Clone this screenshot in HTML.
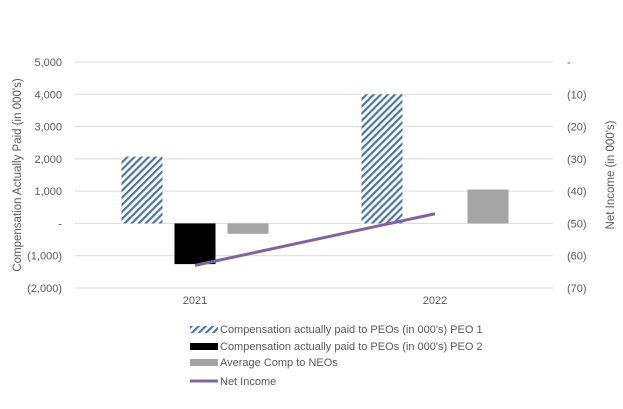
<!DOCTYPE html>
<html><head><meta charset="utf-8"><style>
body{margin:0;background:#fff;}
svg text{font-family:"Liberation Sans",sans-serif;fill:#595959;}
</style></head><body>
<svg id="chart" width="623" height="404" xmlns="http://www.w3.org/2000/svg">
<defs>
<pattern id="hatch" patternUnits="userSpaceOnUse" width="5" height="5" patternTransform="rotate(45)">
<rect width="5" height="5" fill="#fff"/><rect width="2.2" height="5" fill="#4a78a8"/>
</pattern>
</defs>
<g id="grid"></g><g id="bars"></g><g id="line"></g><g id="axes"></g>
<text transform="translate(21,175) rotate(-90)" text-anchor="middle" font-size="11.5">Compensation Actually Paid (in 000's)</text>
<text transform="translate(614,175) rotate(-90)" text-anchor="middle" font-size="11.5">Net Income (in 000's)</text>
<g font-size="11">
<g><rect x="190" y="326" width="28" height="7" fill="url(#hatch)"/><text x="220" y="333">Compensation actually paid to PEOs (in 000's) PEO 1</text></g>
<g><rect x="190" y="343" width="28" height="7" fill="#000"/><text x="220" y="350">Compensation actually paid to PEOs (in 000's) PEO 2</text></g>
<g><rect x="190" y="359" width="28" height="7" fill="#a5a5a5"/><text x="220" y="366">Average Comp to NEOs</text></g>
<g><line x1="190" y1="381" x2="218" y2="381" stroke="#8064a2" stroke-width="3"/><text x="220" y="385">Net Income</text></g>
</g>
</svg>
<script>
const categories=["2021","2022"];
const peo1=[2070,4000];
const peo2=[-1260,null];
const neo=[-320,1050];
const netIncome=[-63,-47];
const leftTicks=[5000,4000,3000,2000,1000,0,-1000,-2000];
const leftTickLabels=["5,000","4,000","3,000","2,000","1,000","-","(1,000)","(2,000)"];
const rightTicks=[0,-10,-20,-30,-40,-50,-60,-70];
const rightTickLabels=["-","(10)","(20)","(30)","(40)","(50)","(60)","(70)"];
const NS="http://www.w3.org/2000/svg";
const X0=75,X1=555,YT=62,YB=288;
const yL=v=>YT+(5000-v)/7000*(YB-YT);
const yR=v=>YT+(0-v)/70*(YB-YT);
const catW=(X1-X0)/categories.length;
const xC=i=>X0+catW*(i+0.5);
const bw=41,gap=12;
function mk(tag,attrs,parent){const e=document.createElementNS(NS,tag);for(const k in attrs)e.setAttribute(k,attrs[k]);document.getElementById(parent).appendChild(e);return e;}
leftTicks.forEach((t,i)=>{
 const g=mk("line",{x1:X0,x2:X1-2,y1:yL(t),y2:yL(t),stroke:"#d9d9d9","stroke-width":1},"grid");
 
 
 const tx=mk("text",{x:62,y:yL(t)+4,"text-anchor":"end","font-size":11},"axes");
 tx.textContent=leftTickLabels[i];
 
 
});
rightTicks.forEach((t,i)=>{
 const tx=mk("text",{x:567,y:yR(t)+4,"font-size":11},"axes");
 tx.textContent=rightTickLabels[i];
 
 
});
categories.forEach((c,i)=>{
 const tx=mk("text",{x:xC(i),y:304,"text-anchor":"middle","font-size":11},"axes");
 tx.textContent=c;
 
 
 const series=[[peo1,"url(#hatch)","bar-peo1"],[peo2,"#000","bar-peo2"],[neo,"#a5a5a5","bar-neo"]];
 series.forEach((s,j)=>{
  const v=s[0][i]; if(v==null) return;
  const x=xC(i)+(j-1)*(bw+gap)-bw/2;
  const y=Math.min(yL(v),yL(0)),h=Math.abs(yL(v)-yL(0));
  const r=mk("rect",{x:x,y:y,width:bw,height:h,fill:s[1]},"bars");
  
  
 });
});
const pts=netIncome.map((v,i)=>xC(i)+","+yR(v)).join(" ");
const pl=mk("polyline",{points:pts,fill:"none",stroke:"#8064a2","stroke-width":3},"line");


</script>
</body></html>
